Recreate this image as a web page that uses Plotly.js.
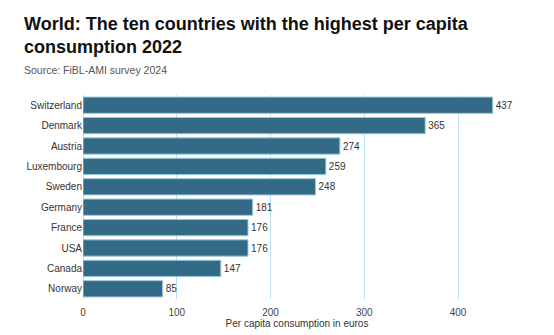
<!DOCTYPE html>
<html><head><meta charset="utf-8">
<script src="https://cdn.plot.ly/plotly-3.0.1.min.js"></script>
<style>html,body{margin:0;padding:0;background:#fff}#chart{width:554px;height:335px}</style>
</head><body><div id="chart"></div>
<script>
const countries = ["Switzerland","Denmark","Austria","Luxembourg","Sweden","Germany","France","USA","Canada","Norway"];
const values = [437,365,274,259,248,181,176,176,147,85];
const xTicks = [0,100,200,300,400];

const FONT = "Liberation Sans, Arial, sans-serif";
const PH = 204;
const trace = {
  type: "bar", orientation: "h",
  y: countries, x: values,
  text: values.map(String), textposition: "outside", cliponaxis: false,
  textfont: {family: FONT, size: 10, color: "#333"},
  marker: {color: "#336b87", line: {color: "#9cc9e0", width: 1}},
  hoverinfo: "none"
};
const layout = {
  width: 554, height: 335,
  margin: {l: 83, r: 43, t: 95, b: 36},
  paper_bgcolor: "#fff", plot_bgcolor: "#fff",
  bargap: 0.2,
  showlegend: false,
  font: {family: FONT, size: 10, color: "#444"},
  annotations: [{
    text: "<b>World: The ten countries with the highest per capita<br>consumption 2022</b>",
    xref: "paper", yref: "paper", x: -0.1425, y: 1 + 83/PH,
    xanchor: "left", yanchor: "top", align: "left", showarrow: false,
    font: {family: FONT, size: 18, color: "#111"}
  }, {
    text: "Source: FiBL-AMI survey 2024", xref: "paper", yref: "paper",
    x: -0.1425, y: 1.0 + 25/PH, xanchor: "left", yanchor: "middle", showarrow: false,
    font: {family: FONT, size: 10.5, color: "#555"}
  }],
  xaxis: {
    range: [0, 456.5], tickvals: xTicks, ticktext: xTicks.map(String),
    showgrid: true, gridcolor: "#bfe0f0", gridwidth: 1, zeroline: true, zerolinecolor: "#bfe0f0",
    showline: false, ticks: "", tickfont: {size: 10, color: "#444"},
    ticklabelstandoff: 6,
    title: {text: "Per capita consumption in euros", font: {size: 10, color: "#333"}, standoff: 0},
    fixedrange: true
  },
  yaxis: {
    autorange: "reversed", showgrid: false, ticks: "", ticklen: 0,
    tickfont: {size: 10, color: "#333"}, showline: false, fixedrange: true
  }
};
Plotly.newPlot("chart", [trace], layout, {displayModeBar: false, staticPlot: true});
</script></body></html>
